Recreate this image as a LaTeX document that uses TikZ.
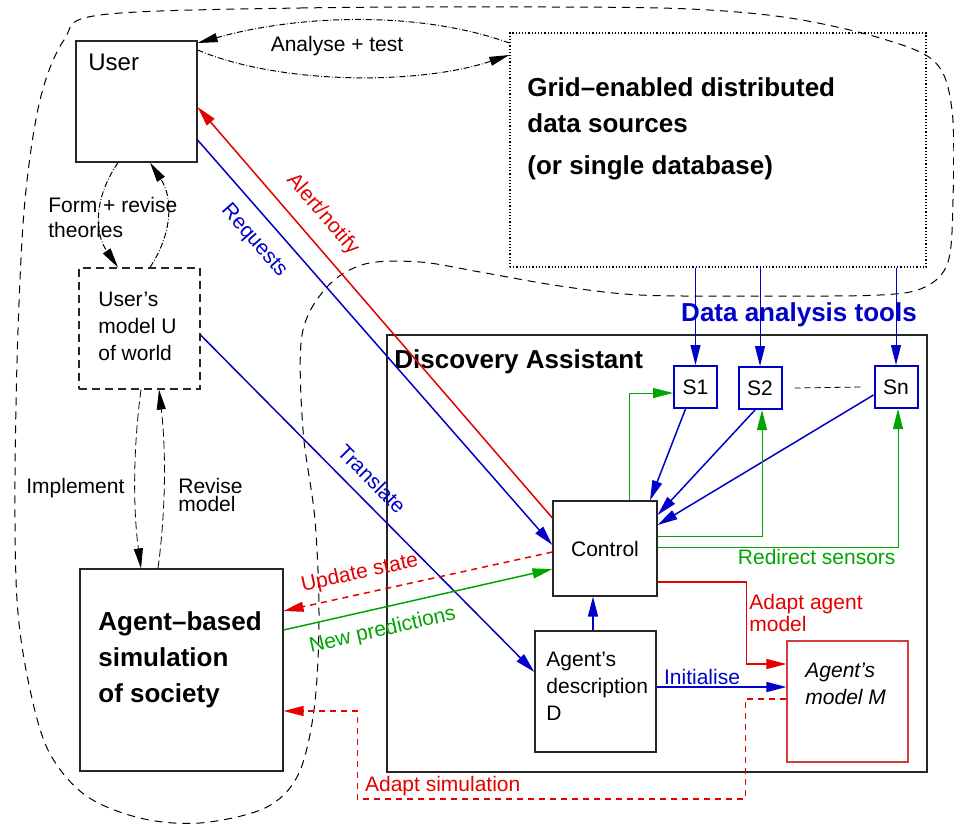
\documentclass[tikz,border=0pt]{standalone}
\usepackage{fontspec}
\setmainfont{Liberation Sans}
\usepackage{tikz}
\usetikzlibrary{arrows.meta}
\definecolor{alertred}{RGB}{228,0,0}
\definecolor{toolblue}{RGB}{0,0,200}
\definecolor{sensegreen}{RGB}{0,165,0}
\definecolor{modelred}{RGB}{214,60,60}
\tikzstyle{block} = [rectangle, draw=black!85, line width=0.6pt, inner sep=0pt, minimum width=60.5pt, minimum height=60.5pt]
\tikzstyle{txt} = [font=\fontsize{10.5}{13.5}\selectfont, align=left, inner sep=1pt]
\tikzstyle{heading} = [font=\fontsize{13}{18}\selectfont\bfseries, align=left, inner sep=0pt]
\tikzstyle{sensorbox} = [rectangle, draw=toolblue, line width=1pt, minimum width=21.5pt, minimum height=21pt, inner sep=0pt, font=\fontsize{10.5}{13}\selectfont]
\tikzstyle{arr} = [-{Triangle[length=10pt,width=5pt]}, line width=0.75pt]
\tikzstyle{reddash} = [dash pattern=on 3pt off 2.5pt]
\tikzstyle{theory} = [densely dash dot, line width=0.5pt]
\tikzstyle{boundary} = [dash pattern=on 4pt off 3pt, line width=0.5pt]
\newcommand{\sensor}[3]{\node [sensorbox] (#1) at (#2) {#3};}

\begin{document}
\begin{tikzpicture}[x=0.5pt, y=-0.5pt]
			\fill[white] (0,0) rectangle (954,826);
			\useasboundingbox (0,0) rectangle (954,826);
			\draw [boundary] plot [smooth cycle, tension=0.55] coordinates {(100,15) (300,8) (550,7) (690,9) (790,18) (880,38) (935,62) (952,110) (953,200) (948,262) (925,287) (880,295) (760,296) (640,295) (560,286) (480,272) (420,262) (365,264) (327,287) (302,335) (303,430) (315,520) (319,620) (314,710) (298,775) (265,808) (200,823) (140,818) (85,795) (48,750) (28,680) (17,600) (15,480) (18,330) (25,200) (40,100) (64,40)};

			\node [block] (user) at (136.5,101.5) {};
			\node [txt, anchor=west, font=\fontsize{12}{14}\selectfont] (usertxt) at (86,62) {User};
			\node [block, dash pattern=on 4pt off 2.5pt] (umodel) at (139.5,328.5) {};
			\node [txt, anchor=west] (umodeltxt) at (96,326) {User's\\model U\\of world};
			\node [block, minimum width=101.5pt, minimum height=101pt] (sim) at (181.5,670) {};
			\node [heading, anchor=west] (simtxt) at (98,660) {Agent--based\\simulation\\of society};
			\node [block, densely dotted, draw=black, minimum width=208pt, minimum height=117pt] (grid) at (718,150) {};
			\node [heading, anchor=west] (gridtxt) at (527,129) {Grid--enabled distributed\\data sources\\[3pt](or single database)};
			\node [block, minimum width=270pt, minimum height=218.5pt] (da) at (657,553.5) {};
			\node [heading, anchor=west] (datxt) at (394,362) {Discovery Assistant};
			\node [heading, text=toolblue] (tooltxt) at (799,315) {Data analysis tools};
			\sensor{s1}{695.5,387}{S1}
			\sensor{s2}{760,388}{S2}
			\sensor{sn}{896,387}{Sn}
			\node [block, txt, minimum width=52pt, minimum height=47.5pt] (control) at (605,548.5) {Control};
			\node [block] (desc) at (595.5,691.5) {};
			\node [txt, anchor=west] (desctxt) at (544,686) {Agent's\\description\\D};
			\node [block, draw=modelred] (mm) at (847.5,701.5) {};
			\node [txt, anchor=west, font=\fontsize{10.5}{13.5}\selectfont\itshape] (mmtxt) at (803,684) {Agent's\\model M};

			\draw [theory, -{Triangle[length=10pt,width=4.5pt]}] ([yshift=53.5pt]grid.west) .. controls +(-92,-33) and +(100,-28) .. ([yshift=29.25pt]user.east);
			\draw [theory, -{Triangle[length=10pt,width=4.5pt]}] ([yshift=25.75pt]user.east) .. controls +(83,35) and +(-90,30) .. ([yshift=47.5pt]grid.west);
			\node [txt] (analysetxt) at (337,46) {Analyse + test};
			\draw [theory, -{Triangle[length=10pt,width=4.5pt]}] ([xshift=-9.25pt]user.south) .. controls +(-24,35) and +(-24,-35) .. ([xshift=-10.75pt]umodel.north);
			\draw [theory, -{Triangle[length=10pt,width=4.5pt]}] ([xshift=5.25pt]umodel.north) .. controls +(23,-35) and +(23,35) .. ([xshift=6.75pt]user.south);
			\node [txt, anchor=west, font=\fontsize{10.5}{12.5}\selectfont] (theorytxt) at (46,217) {Form + revise\\theories};
			\draw [dash pattern=on 4pt off 2pt, -{Triangle[length=10pt,width=4.5pt]}] ([xshift=0.75pt]umodel.south) .. controls +(-8,60) and +(-8,-60) .. ([xshift=-20.25pt]sim.north);
			\draw [dash pattern=on 4pt off 2pt, -{Triangle[length=10pt,width=4.5pt]}] ([xshift=-11.75pt]sim.north) .. controls +(8,-60) and +(7,60) .. ([xshift=9.75pt]umodel.south);
			\node [txt, anchor=west] (impltxt) at (24,488) {Implement};
			\node [txt, anchor=west, font=\fontsize{10.5}{9}\selectfont] (revisetxt) at (176,495) {Revise\\model};

			\draw [arr, alertred] ([yshift=15.25pt]control.west) -- ([yshift=-2.75pt]user.east) node [txt, pos=0.7, sloped, above=6pt] {Alert/notify};
			\draw [arr, toolblue] ([yshift=-19.25pt]user.east) -- ([yshift=1.75pt]control.west) node [txt, pos=0.21, sloped, below=6pt] {Requests};
			\draw [arr, toolblue] ([yshift=-3.25pt]umodel.east) -- ([yshift=9.75pt]desc.west) node [txt, pos=0.47, sloped, above=5pt] {Translate};
			\draw [arr, alertred, reddash] ([yshift=-1.75pt]control.west) -- ([yshift=29.5pt]sim.east) node [txt, pos=0.7, sloped, above=4pt] {Update state};
			\draw [arr, sensegreen] ([yshift=20pt]sim.east) -- ([yshift=-10.25pt]control.west) node [txt, pos=0.35, sloped, below=5pt] {New predictions};
			\draw [arr, alertred, reddash] ([yshift=1.25pt]mm.west) -- ++(-41,0) -- ++(0,100) -- ++(-388,0) node [txt, pos=0.78, above] {Adapt simulation} -- ++(0,-88) -- ([yshift=-20.5pt]sim.east);
			\draw [arr, alertred] ([yshift=-16.75pt]control.east) -- ++(89,0) |- ([yshift=18.75pt]mm.west) node [txt, pos=0.19, right, font=\fontsize{10.5}{9.5}\selectfont] {Adapt agent\\model};
			\draw [arr, toolblue] ([yshift=2.25pt]desc.east) -- ([yshift=7.25pt]mm.west) node [txt, pos=0.35, above] {Initialise};
			\draw [arr, toolblue] ([xshift=-1.25pt]desc.north) -- ([xshift=-6pt]control.south);

			\draw [arr, toolblue, line width=0.5pt] (s1.north |- grid.south) -- (s1.north);
			\draw [arr, toolblue, line width=0.5pt] (s2.north |- grid.south) -- (s2.north);
			\draw [arr, toolblue, line width=0.5pt] (sn.north |- grid.south) -- (sn.north);
			\draw [dash pattern=on 3pt off 2pt] ([xshift=6pt]s2.east) -- ([xshift=-6pt]sn.west);
			\draw [arr, toolblue] ([xshift=-5pt]s1.south) -- ([xshift=22.5pt]control.north);
			\draw [arr, toolblue] ([xshift=-2.5pt]s2.south) -- ([yshift=16.75pt]control.east);
			\draw [arr, toolblue] ([yshift=-4pt]sn.west) -- ([yshift=11.75pt]control.east);
			\draw [arr, sensegreen, line width=0.5pt] ([xshift=12pt]control.north) |- ([yshift=-3pt]s1.west);
			\draw [arr, sensegreen, line width=0.5pt] ([yshift=6.25pt]control.east) -| ([xshift=1pt]s2.south);
			\draw [arr, sensegreen, line width=0.5pt] ([yshift=0.75pt]control.east) -| ([xshift=1pt]sn.south) node [txt, pos=0.5, below left] {Redirect sensors};
\end{tikzpicture}
\end{document}
